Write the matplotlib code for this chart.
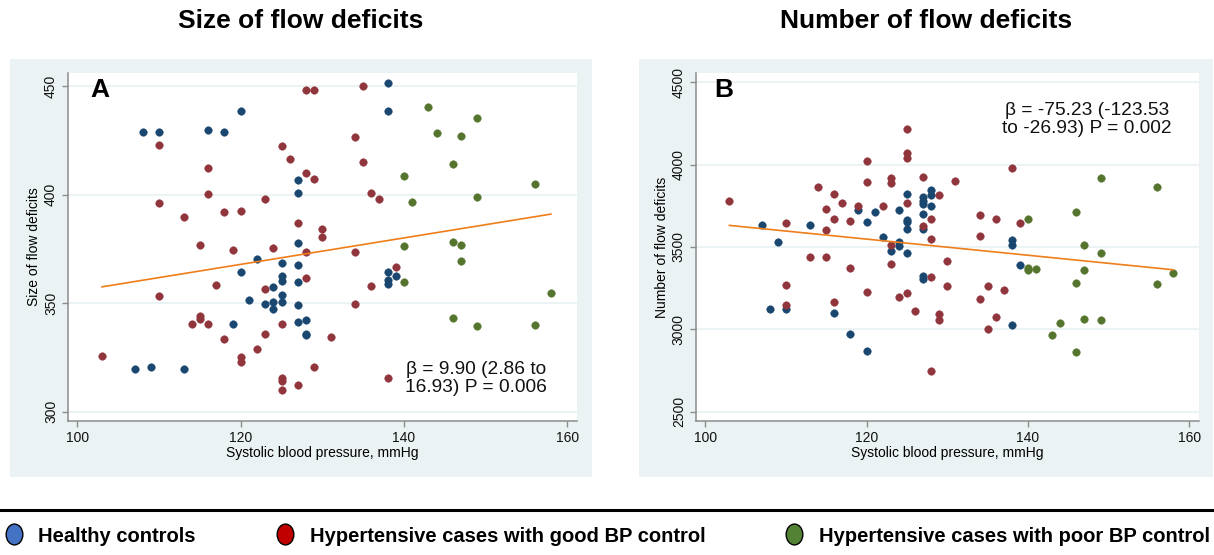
import matplotlib
matplotlib.use("Agg")
import matplotlib.pyplot as plt
from matplotlib.patches import Rectangle
from matplotlib.lines import Line2D
from matplotlib.path import Path

plt.rcParams.update({"font.family": "Liberation Sans", "font.size": 10})

W, H = 1214, 555
BG = "#eaf2f3"
NAVY, MAROON, FOREST, ORANGE = "#1a476f", "#90353b", "#55752f", "#ee7d1a"

# ---- Panel A: size of flow deficits vs SBP ----
a_ctrl_x = [108, 110, 116, 118, 120, 138, 138, 127, 127, 127, 127, 127, 127, 127, 128, 128, 128,
            122, 120, 121, 123, 124, 124, 124, 125, 125, 125, 125, 125, 119, 107, 109, 113,
            138, 138, 138, 139]
a_ctrl_y = [428.7, 428.7, 429.6, 428.7, 438.6, 451.5, 438.5, 406.9, 400.9, 377.7, 367.7, 359.7,
            349.1, 341.2, 342.3, 336.0, 335.1, 370.3, 364.3, 351.4, 349.4, 357.3, 350.3, 347.4,
            368.6, 362.6, 360.2, 353.6, 350.3, 340.4, 319.5, 320.6, 319.5, 364.5, 360.6, 358.8,
            362.7]
a_good_x = [103, 110, 110, 110, 113, 115, 115, 115, 114, 116, 116, 116, 117, 118, 118, 119, 120,
            120, 120, 122, 123, 123, 123, 124, 125, 125, 125, 125, 125, 126, 127, 127, 128, 129,
            128, 129, 128, 128, 129, 130, 130, 131, 134, 134, 134, 135, 135, 136, 136, 137, 138,
            139]
a_good_y = [325.6, 422.8, 396.0, 353.1, 389.7, 376.9, 344.1, 342.9, 340.5, 412.2, 400.3, 340.5,
            358.5, 392.0, 333.6, 374.5, 392.4, 325.0, 323.1, 328.8, 397.9, 356.4, 335.6, 375.3,
            422.2, 340.5, 315.4, 314.3, 310.0, 416.4, 312.4, 386.9, 448.1, 448.1, 409.8, 407.3,
            373.6, 361.4, 320.5, 384.2, 380.4, 334.4, 426.7, 373.6, 349.4, 450.1, 414.9, 400.9,
            357.9, 397.9, 315.4, 366.5]
a_poor_x = [143, 144, 147, 149, 146, 140, 141, 149, 156, 140, 146, 147, 147, 140, 158, 146, 149,
            156]
a_poor_y = [440.2, 428.2, 427.0, 435.1, 413.9, 408.7, 396.7, 398.7, 404.9, 376.2, 378.0, 376.9,
            369.4, 359.6, 354.7, 343.1, 339.5, 339.8]
a_fit_x = [103, 158]
a_fit_y = [357.5, 391.0]

# ---- Panel B: number of flow deficits vs SBP ----
b_ctrl_x = [107, 109, 108, 110, 113, 116, 118, 119, 120, 120, 121, 122, 123, 124, 124, 124, 125,
            125, 125, 125, 125, 127, 127, 127, 127, 127, 127, 127, 128, 128, 128, 138, 138, 139,
            138]
b_ctrl_y = [3633, 3532, 3123, 3123, 3633, 3100, 2972, 3727, 3652, 2871, 3715, 3563, 3477, 3725,
            3531, 3508, 3820, 3666, 3650, 3610, 3463, 3802, 3781, 3763, 3699, 3608, 3323, 3309,
            3848, 3816, 3747, 3544, 3511, 3393, 3029]
b_good_x = [103, 110, 110, 110, 113, 114, 115, 115, 115, 116, 116, 116, 117, 118, 118, 119, 120,
            120, 120, 122, 123, 123, 123, 123, 124, 125, 125, 125, 125, 125, 126, 127, 127, 128,
            128, 128, 128, 129, 129, 129, 130, 130, 131, 134, 134, 134, 135, 135, 136, 136, 137,
            138, 139]
b_good_y = [3777, 3645, 3269, 3148, 3439, 3862, 3728, 3602, 3442, 3823, 3667, 3165, 3764, 3660,
            3370, 3749, 4021, 3894, 3230, 3749, 3921, 3890, 3513, 3397, 3198, 4214, 4072, 4040,
            3767, 3221, 3114, 3927, 3628, 3667, 3546, 3321, 2746, 3815, 3092, 3055, 3415, 3265,
            3901, 3693, 3566, 3186, 3266, 3001, 3667, 3077, 3239, 3980, 3643]
b_poor_x = [140, 140, 140, 141, 143, 144, 146, 146, 146, 147, 147, 147, 149, 149, 149, 156, 156,
            158]
b_poor_y = [3667, 3375, 3358, 3367, 2966, 3037, 3715, 3283, 2864, 3511, 3358, 3064, 3921, 3466,
            3059, 3864, 3273, 3345]
b_fit_x = [103, 158]
b_fit_y = [3631, 3362]

group_colors = [NAVY, MAROON, FOREST]
legend_colors = ["#4472c4", "#c00000", "#548235"]
legend_labels = ["Healthy controls", "Hypertensive cases with good BP control",
                 "Hypertensive cases with poor BP control"]

fig = plt.figure(figsize=(W / 100, H / 100), dpi=100)
fig.patch.set_facecolor("white")

# light panel backgrounds (Stata s2color look)
fig.add_artist(Rectangle((10 / W, 1 - 477 / H), 582 / W, 418 / H, transform=fig.transFigure,
                         facecolor=BG, edgecolor="none", zorder=-5))
fig.add_artist(Rectangle((639 / W, 1 - 477 / H), 574 / W, 418 / H, transform=fig.transFigure,
                         facecolor=BG, edgecolor="none", zorder=-5))

axA = fig.add_axes([67.7 / W, 1 - 421 / H, 509.3 / W, 348 / H])
axB = fig.add_axes([695.5 / W, 1 - 421 / H, 503.5 / W, 348 / H])

panels = [
    (axA, [(a_ctrl_x, a_ctrl_y), (a_good_x, a_good_y), (a_poor_x, a_poor_y)], (a_fit_x, a_fit_y),
     (295.7, 456.0), [300, 350, 400, 450], "Size of flow deficits", "A", 0.045,
     "β = 9.90 (2.86 to\n16.93) P = 0.006", (0.802, 0.123)),
    (axB, [(b_ctrl_x, b_ctrl_y), (b_good_x, b_good_y), (b_poor_x, b_poor_y)], (b_fit_x, b_fit_y),
     (2445, 4555), [2500, 3000, 3500, 4000, 4500], "Number of flow deficits", "B", 0.038,
     "β = -75.23 (-123.53\nto -26.93) P = 0.002", (0.778, 0.866)),
]

for ax, groups, fit, ylim, yticks, ylab, letter, lx, note, npos in panels:
    ax.set_facecolor("white")
    for (gx, gy), c in zip(groups, group_colors):
        ax.scatter(gx, gy, s=30, color=c, edgecolors=c, linewidths=0.3, zorder=3)
    ax.plot(fit[0], fit[1], color=ORANGE, lw=1.2, zorder=4)
    ax.set_xlim(98.8, 161.2)
    ax.set_ylim(*ylim)
    ax.set_xticks([100, 120, 140, 160])
    ax.set_yticks(yticks)
    ax.yaxis.grid(True, color=BG, lw=1.3)
    ax.set_axisbelow(True)
    for s in ("top", "right"):
        ax.spines[s].set_visible(False)
    for s in ("left", "bottom"):
        ax.spines[s].set_color("#8c8c8c")
        ax.spines[s].set_linewidth(1.1)
    ax.tick_params(length=4, width=1, color="#8c8c8c", pad=3, labelsize=10, labelcolor="#111111")
    for lab in ax.get_yticklabels():
        lab.set_rotation(90)
        lab.set_va("center")
    ax.set_xlabel("Systolic blood pressure, mmHg", fontsize=10, labelpad=1)
    ax.set_ylabel(ylab, fontsize=10, labelpad=2)
    ax.text(lx, 0.985, letter, transform=ax.transAxes, fontsize=19, weight="bold",
            ha="left", va="top")
    ax.text(npos[0], npos[1], note, transform=ax.transAxes, fontsize=13.8, ha="center",
            va="center", multialignment="center", linespacing=1.1, color="#111111")

fig.text(301 / W, 1 - 21 / H, "Size of flow deficits", fontsize=19, weight="bold",
         ha="center", va="center")
fig.text(926 / W, 1 - 21 / H, "Number of flow deficits", fontsize=19, weight="bold",
         ha="center", va="center")

# separator + legend
fig.add_artist(Line2D([0, 1], [1 - 510 / H] * 2, color="black", lw=2.2, transform=fig.transFigure))
circ = Path.unit_circle()
ellipse = Path(circ.vertices * [0.8, 1.0], circ.codes)
handles = [Line2D([], [], ls="none", marker=ellipse, markersize=15, markerfacecolor=c,
                  markeredgecolor="black", markeredgewidth=1) for c in legend_colors]
fig.legend(handles, legend_labels, loc="center left", bbox_to_anchor=(4 / W, 1 - 536 / H),
           ncol=3, frameon=False, prop=dict(weight="bold", size=14.5), handlelength=0.95,
           handletextpad=0.75, columnspacing=3.95, borderaxespad=0, borderpad=0)

fig.savefig("out.png", dpi=100)
